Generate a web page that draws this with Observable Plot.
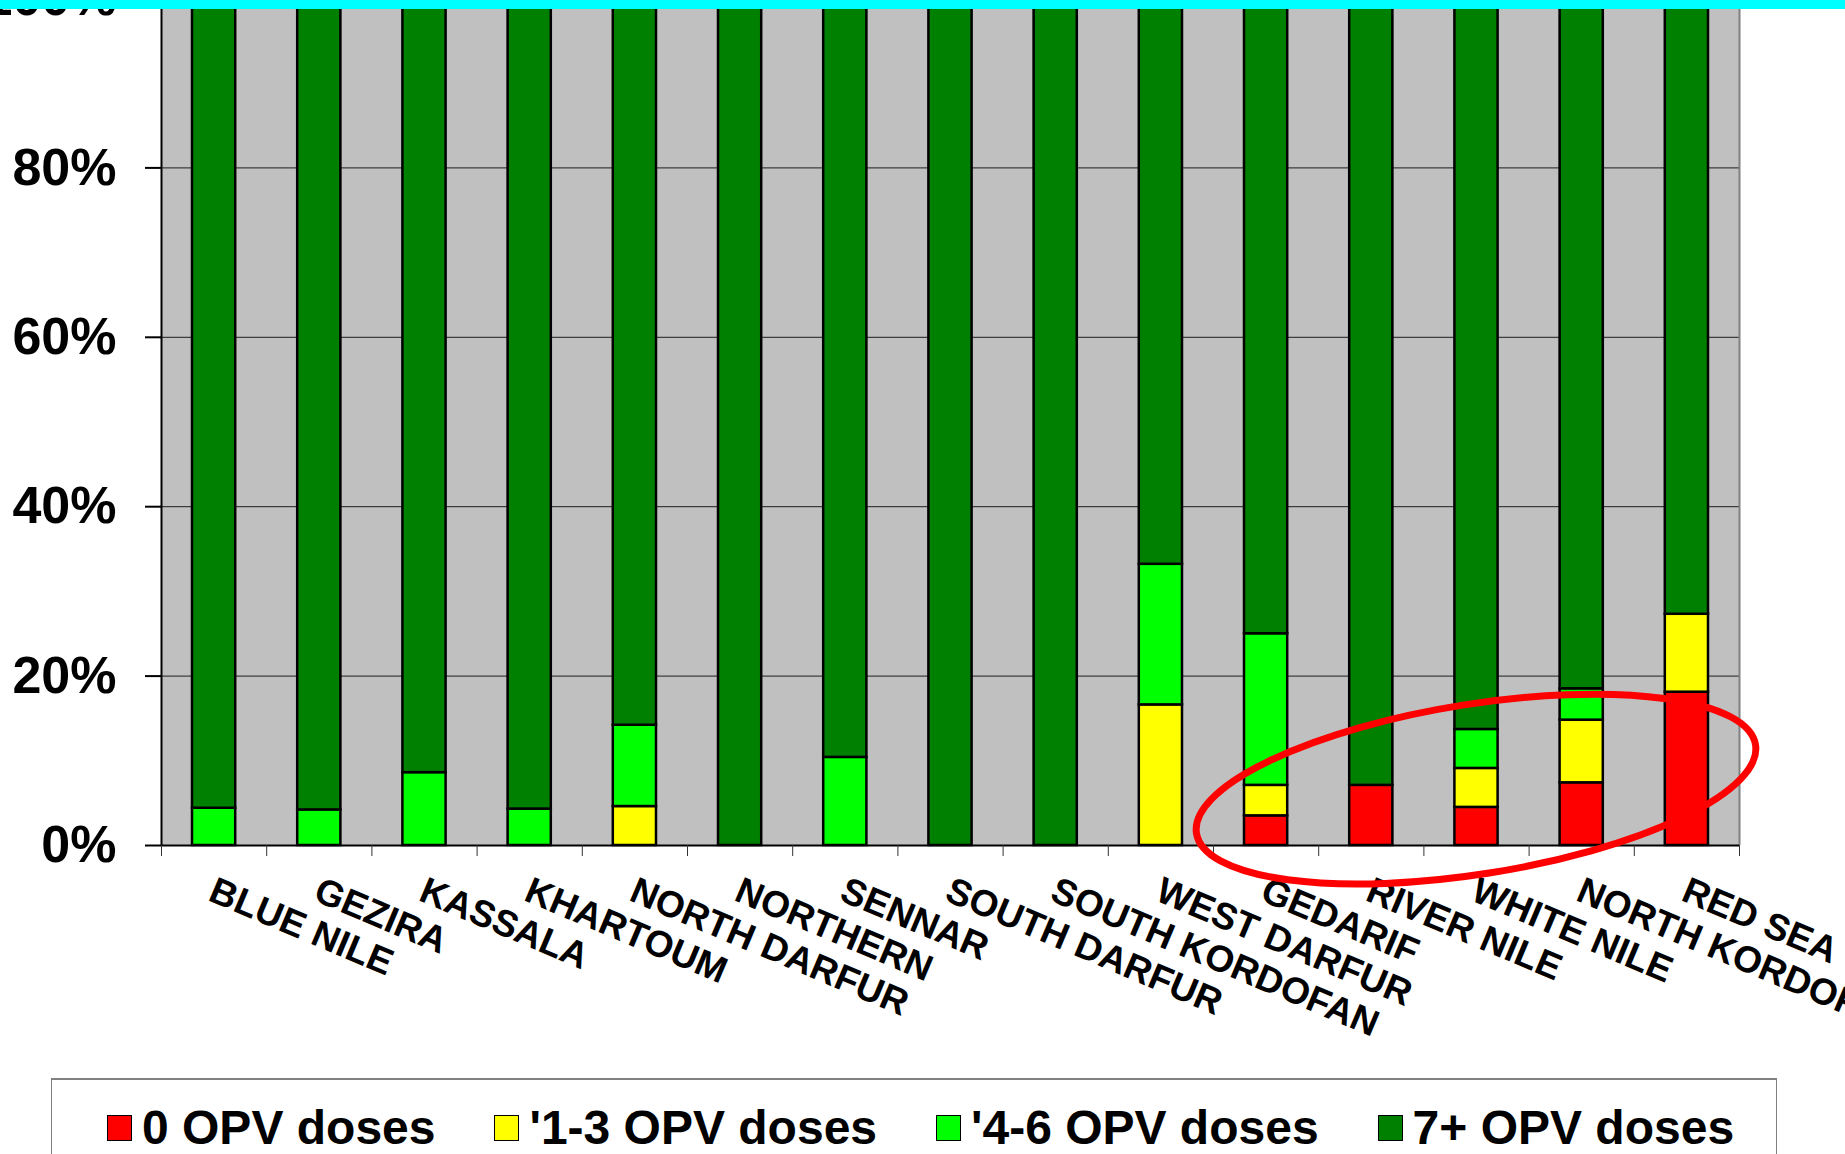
<!DOCTYPE html>
<html><head><meta charset="utf-8">
<script src="https://cdn.jsdelivr.net/npm/d3@7"></script>
<script src="https://cdn.jsdelivr.net/npm/@observablehq/plot@0.6"></script>
<style>
html,body{margin:0;padding:0;background:#fff;overflow:hidden;width:1845px;height:1154px;}
#chart{position:absolute;left:0;top:-60px;}
#chart svg text{font-weight:bold;}
#topbar{position:absolute;left:0;top:0;width:1845px;height:9px;background:#00FFFF;z-index:5}
#legend{position:absolute;left:51px;top:1078px;width:1726px;height:200px;border:1px solid #808080;border-top:2px solid #808080;box-sizing:border-box;font-family:"Liberation Sans",Arial,sans-serif;font-weight:bold;font-size:48px;color:#000;}
#legend .row{position:absolute;left:55px;top:24px;display:flex;align-items:center;gap:59px;line-height:48px;white-space:nowrap}
#legend .item{display:flex;align-items:center}
#legend .sw{width:23px;height:24px;border:1.5px solid #000;margin-right:10px}
</style></head>
<body>
<div id="topbar"></div>
<div id="chart"></div>
<div id="legend"><div class="row"></div></div>
<script>
const categories = ["BLUE NILE","GEZIRA","KASSALA","KHARTOUM","NORTH DARFUR","NORTHERN","SENNAR","SOUTH DARFUR","SOUTH KORDOFAN","WEST DARFUR","GEDARIF","RIVER NILE","WHITE NILE","NORTH KORDOFAN","RED SEA"];
const seriesNames = ["0 OPV doses","'1-3 OPV doses","'4-6 OPV doses","7+ OPV doses"];
const seriesColors = ["#FF0000","#FFFF00","#00FF00","#008000"];
const zeroDoses  = [0,0,0,0,0,0,0,0,0,0,3.5,7.1,4.5,7.4,18.1];
const oneToThree = [0,0,0,0,4.6,0,0,0,0,16.6,3.6,0,4.6,7.4,9.2];
const fourToSix  = [4.4,4.2,8.6,4.3,9.6,0,10.4,0,0,16.6,17.9,0,4.6,3.7,0];
const sevenPlus  = [95.6,95.8,91.4,95.7,85.8,100,89.6,100,100,66.8,75.0,92.9,86.3,81.5,72.7];
const yTicks = [0,20,40,60,80,100];
const highlight = {category:"WHITE NILE", value:6.6, rx:283, ry:85, angle:-9};

const series = [zeroDoses, oneToThree, fourToSix, sevenPlus];
const rows = [];
categories.forEach((c, i) => {
  let acc = 0;
  series.forEach((vals, s) => {
    const v = vals[i];
    if (v > 0) rows.push({i, category: c, series: seriesNames[s], y1: acc, y2: acc + v});
    acc += v;
  });
});

function highlightMark(index, scales, values, dimensions, context) {
  const i = categories.indexOf(highlight.category);
  const cx = scales.x(i + 0.5), cy = scales.y(highlight.value);
  return d3.create("svg:ellipse")
    .attr("cx", cx).attr("cy", cy).attr("rx", highlight.rx).attr("ry", highlight.ry)
    .attr("transform", `rotate(${highlight.angle} ${cx} ${cy})`)
    .attr("fill", "none").attr("stroke", "#FF0000").attr("stroke-width", 7)
    .node();
}

const chart = Plot.plot({
  width: 1845, height: 1120,
  marginLeft: 161, marginRight: 106, marginTop: 58, marginBottom: 215,
  style: {fontFamily: "'Liberation Sans', Arial, sans-serif", background: "transparent", overflow: "visible", maxWidth: "none"},
  x: {type: "linear", domain: [0, categories.length], axis: null, label: null},
  y: {domain: [0, 100], axis: null, label: null},
  color: {domain: seriesNames, range: seriesColors},
  marks: [
    Plot.frame({fill: "#C0C0C0", stroke: "none"}),
    Plot.gridY(yTicks.filter(t => t > 0 && t < 100), {stroke: "#000", strokeOpacity: 0.85, strokeWidth: 1}),
    Plot.rectY(rows, {x1: "i", x2: d => d.i + 1, y1: "y1", y2: "y2", fill: "series", stroke: "#000", strokeWidth: 2.5, insetLeft: 31, insetRight: 31}),
    Plot.ruleX([categories.length], {stroke: "#808080", strokeWidth: 2}),
    Plot.ruleX([0], {stroke: "#000", strokeWidth: 2}),
    Plot.ruleY([0], {stroke: "#000", strokeWidth: 2}),
    Plot.axisY({ticks: yTicks, tickFormat: d => d + "%", tickSize: 16, tickPadding: 29, strokeWidth: 2, fontSize: 52, fontWeight: "bold", label: null}),
    Plot.axisX({ticks: d3.range(categories.length + 1), tickFormat: () => "", tickSize: 11, stroke: "#333", label: null}),
    Plot.axisX({ticks: categories.map((c, i) => i + 0.5), tickFormat: t => categories[Math.floor(t)], tickSize: 0, tickPadding: 30, tickRotate: 23, dx: 3, textAnchor: "start", lineAnchor: "top", fontSize: 37, fontWeight: "bold", label: null}),
    highlightMark
  ]
});
document.getElementById("chart").appendChild(chart);

const row = d3.select("#legend .row");
seriesNames.forEach((name, k) => {
  const item = row.append("div").attr("class", "item");
  item.append("div").attr("class", "sw").style("background", seriesColors[k]);
  item.append("span").text(name);
});
</script>
</body></html>
